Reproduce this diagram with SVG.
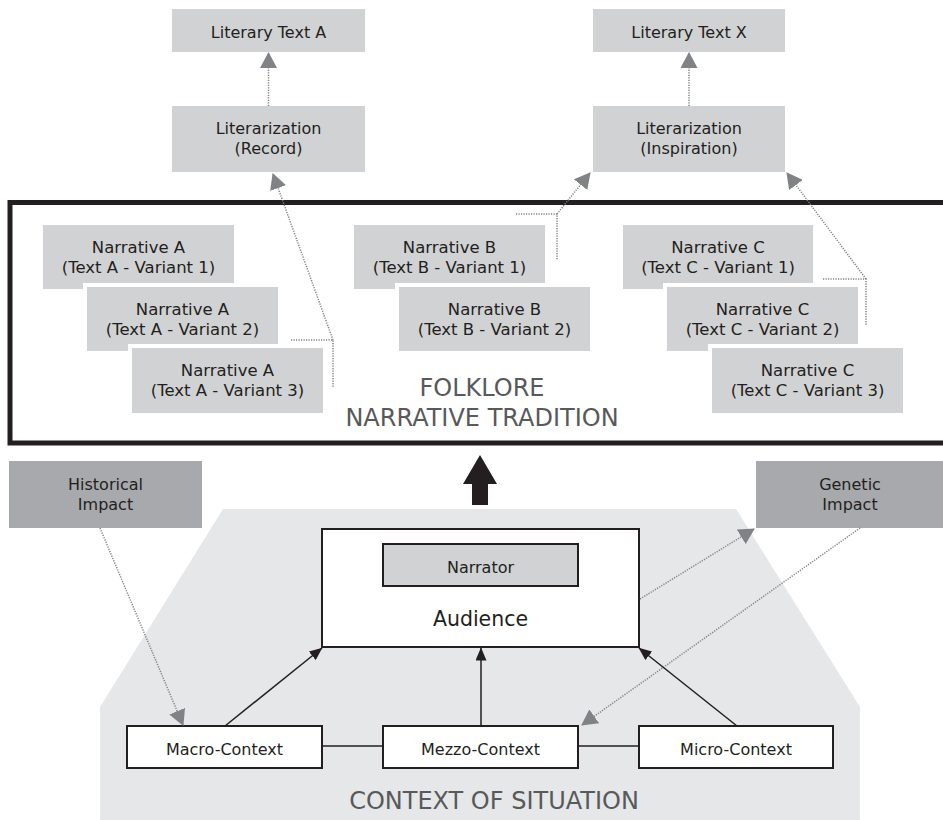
<svg xmlns="http://www.w3.org/2000/svg" width="943" height="820" viewBox="0 0 943 820">
<style>
text{font-family:"DejaVu Sans","Liberation Sans",sans-serif;fill:#231f20;text-anchor:middle;}
.t{font-size:16px;}
.n{font-size:16.5px;}
.big{font-size:24px;fill:#58595b;}
.lb{fill:#d1d2d4;}
.nb{fill:#d1d2d4;stroke:#ffffff;stroke-width:8;paint-order:stroke;}
.db{fill:#a7a9ac;}
.wb{fill:#ffffff;stroke:#231f20;stroke-width:2;}
.dot{fill:none;stroke:#808285;stroke-width:1.5;stroke-dasharray:1.2 1.3;}
.sol{fill:none;stroke:#231f20;stroke-width:1.5;}
</style>
<defs>
<marker id="ga" markerUnits="userSpaceOnUse" markerWidth="16" markerHeight="17" viewBox="0 0 16 17" refX="15" refY="8.5" orient="auto">
<path d="M0,0 L16,8.5 L0,17 z" fill="#808285"/>
</marker>
<marker id="ba" markerUnits="userSpaceOnUse" markerWidth="13" markerHeight="11" viewBox="0 0 13 11" refX="12.5" refY="5.5" orient="auto">
<path d="M0,0 L13,5.5 L0,11 z" fill="#231f20"/>
</marker>
</defs>

<rect width="943" height="820" fill="#ffffff"/>

<!-- context of situation background -->
<g id="context-area">
<polygon points="223,509 736,509 860,707 860,820 100,820 100,707" fill="#e6e7e8"/>
<text class="big" x="494" y="809">CONTEXT OF SITUATION</text>
</g>

<!-- folklore frame -->
<g id="folklore-frame">
<rect x="10" y="202.5" width="945" height="240.5" fill="#ffffff" stroke="#231f20" stroke-width="5"/>
<text class="big" x="482" y="396">FOLKLORE</text>
<text class="big" x="482" y="426">NARRATIVE TRADITION</text>
</g>

<g id="literary-text-a">
<rect class="lb" x="172" y="9" width="193" height="43"/>
<text class="t" x="268.5" y="38">Literary Text A</text>
</g>
<g id="literary-text-x">
<rect class="lb" x="593" y="9" width="192" height="43"/>
<text class="t" x="689" y="38">Literary Text X</text>
</g>
<g id="literarization-record">
<rect class="lb" x="172" y="106" width="193" height="66"/>
<text class="t" x="268.5" y="134">Literarization</text>
<text class="t" x="268.5" y="154">(Record)</text>
</g>
<g id="literarization-inspiration">
<rect class="lb" x="593" y="106" width="192" height="66"/>
<text class="t" x="689" y="134">Literarization</text>
<text class="t" x="689" y="154">(Inspiration)</text>
</g>

<g id="narrative-a1">
<rect class="nb" x="43" y="225" width="191" height="64"/>
<text class="n" x="138.5" y="253">Narrative A</text>
<text class="n" x="138.5" y="273">(Text A - Variant 1)</text>
</g>
<g id="narrative-a2">
<rect class="nb" x="87" y="287" width="191" height="64"/>
<text class="n" x="182.5" y="315">Narrative A</text>
<text class="n" x="182.5" y="335">(Text A - Variant 2)</text>
</g>
<g id="narrative-a3">
<rect class="nb" x="132" y="348" width="191" height="65"/>
<text class="n" x="227.5" y="376">Narrative A</text>
<text class="n" x="227.5" y="396">(Text A - Variant 3)</text>
</g>
<g id="narrative-b1">
<rect class="nb" x="354" y="225" width="191" height="64"/>
<text class="n" x="449.5" y="253">Narrative B</text>
<text class="n" x="449.5" y="273">(Text B - Variant 1)</text>
</g>
<g id="narrative-b2">
<rect class="nb" x="399" y="287" width="191" height="64"/>
<text class="n" x="494.5" y="315">Narrative B</text>
<text class="n" x="494.5" y="335">(Text B - Variant 2)</text>
</g>
<g id="narrative-c1">
<rect class="nb" x="623" y="225" width="190" height="64"/>
<text class="n" x="718" y="253">Narrative C</text>
<text class="n" x="718" y="273">(Text C - Variant 1)</text>
</g>
<g id="narrative-c2">
<rect class="nb" x="667" y="287" width="191" height="64"/>
<text class="n" x="762.5" y="315">Narrative C</text>
<text class="n" x="762.5" y="335">(Text C - Variant 2)</text>
</g>
<g id="narrative-c3">
<rect class="nb" x="712" y="348" width="191" height="65"/>
<text class="n" x="807.5" y="376">Narrative C</text>
<text class="n" x="807.5" y="396">(Text C - Variant 3)</text>
</g>

<g id="historical-impact">
<rect class="db" x="9" y="461" width="193" height="67"/>
<text class="t" x="105.5" y="490">Historical</text>
<text class="t" x="105.5" y="510">Impact</text>
</g>
<g id="genetic-impact">
<rect class="db" x="756" y="461" width="195" height="67"/>
<text class="t" x="850" y="490">Genetic</text>
<text class="t" x="850" y="510">Impact</text>
</g>

<g id="audience">
<rect class="wb" x="322" y="529" width="317" height="118"/>
<text x="480.5" y="626" style="font-size:20.5px">Audience</text>
</g>
<g id="narrator">
<rect x="383" y="544" width="195" height="42" fill="#d1d2d4" stroke="#231f20" stroke-width="2"/>
<text class="t" x="480.5" y="573">Narrator</text>
</g>

<g id="macro-context">
<rect class="wb" x="127" y="726" width="195" height="42"/>
<text class="t" x="224.5" y="755">Macro-Context</text>
</g>
<g id="mezzo-context">
<rect class="wb" x="383" y="726" width="195" height="42"/>
<text class="t" x="480.5" y="755">Mezzo-Context</text>
</g>
<g id="micro-context">
<rect class="wb" x="639" y="726" width="194" height="42"/>
<text class="t" x="736" y="755">Micro-Context</text>
</g>

<g id="connectors">
<!-- big arrow -->
<polygon points="480,455 497,484 488,484 488,505 472,505 472,484 463,484" fill="#231f20"/>
<!-- literarization to literary text -->
<line class="dot" x1="268.5" y1="106" x2="268.5" y2="53" marker-end="url(#ga)"/>
<line class="dot" x1="689" y1="106" x2="689" y2="53" marker-end="url(#ga)"/>
<!-- A bracket -->
<polyline class="dot" points="291,340 333,340 333,387"/>
<line class="dot" x1="333" y1="340" x2="273" y2="174" marker-end="url(#ga)"/>
<!-- B bracket -->
<polyline class="dot" points="516,214 557,214 557,260"/>
<line class="dot" x1="557" y1="214" x2="590" y2="173" marker-end="url(#ga)"/>
<!-- C bracket -->
<polyline class="dot" points="823,279 866,279 866,325"/>
<line class="dot" x1="866" y1="279" x2="787" y2="173" marker-end="url(#ga)"/>
<!-- impacts -->
<line class="dot" x1="100" y1="528" x2="183" y2="725" marker-end="url(#ga)"/>
<line class="dot" x1="640" y1="599" x2="754" y2="529" marker-end="url(#ga)"/>
<line class="dot" x1="860" y1="528" x2="582" y2="725" marker-end="url(#ga)"/>
<!-- context lines -->
<line class="sol" x1="322" y1="746" x2="383" y2="746"/>
<line class="sol" x1="578" y1="746" x2="639" y2="746"/>
<line class="sol" x1="225" y1="726" x2="322" y2="648" marker-end="url(#ba)"/>
<line class="sol" x1="481" y1="726" x2="481" y2="648" marker-end="url(#ba)"/>
<line class="sol" x1="737" y1="726" x2="639" y2="648" marker-end="url(#ba)"/>
</g>
</svg>
